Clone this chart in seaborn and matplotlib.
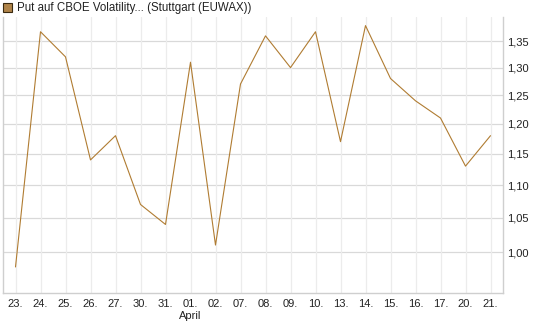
import matplotlib
matplotlib.use("Agg")
import matplotlib.pyplot as plt
import seaborn as sns
import pandas as pd
from matplotlib.ticker import FixedLocator, FixedFormatter, NullLocator
from matplotlib.patches import Rectangle

dates = ["23.", "24.", "25.", "26.", "27.", "30.", "31.", "01.", "02.", "07.",
         "08.", "09.", "10.", "13.", "14.", "15.", "16.", "17.", "20.", "21."]
values = [0.979, 1.368, 1.32, 1.14, 1.18, 1.07, 1.04, 1.31, 1.01, 1.27,
          1.36, 1.30, 1.368, 1.17, 1.38, 1.28, 1.24, 1.21, 1.13, 1.18]
ytick_values = [1.00, 1.05, 1.10, 1.15, 1.20, 1.25, 1.30, 1.35]
ytick_labels = ["1,00", "1,05", "1,10", "1,15", "1,20", "1,25", "1,30", "1,35"]
title = "Put auf CBOE Volatility... (Stuttgart (EUWAX))"
month_label = "April"
month_index = 7

sns.set_theme(style="white")
plt.rcParams['font.family'] = ['Liberation Sans', 'DejaVu Sans']

df = pd.DataFrame({"i": range(len(values)), "v": values})

fig = plt.figure(figsize=(5.45, 3.27), dpi=100)
ax = fig.add_axes([3/545, 34/327, 500/545, 276/327])

line_color = "#b07c32"
sns.lineplot(data=df, x="i", y="v", ax=ax, color=line_color, linewidth=0.8)

ax.set_yscale("log")
ax.set_ylim(0.9434, 1.397)
ax.set_xlim(-0.5, len(values) - 0.5)

ax.yaxis.set_major_locator(FixedLocator(ytick_values))
ax.yaxis.set_major_formatter(FixedFormatter(ytick_labels))
ax.yaxis.set_minor_locator(NullLocator())
ax.yaxis.tick_right()
ax.set_xticks(range(len(dates)))
ax.set_xticklabels(dates)
ax.tick_params(axis="both", length=0, labelsize=8, colors="#222222")
ax.tick_params(axis="y", pad=3)
ax.tick_params(axis="x", pad=4)
ax.set_xlabel("")
ax.set_ylabel("")

ax.grid(False)
for yv in ytick_values:
    ax.axhline(yv, color="#d9d9d9", linewidth=0.9, zorder=0)
for xv in range(len(dates)):
    ax.axvline(xv, color="#ececec", linewidth=0.9, zorder=0)

for s in ["left", "right", "bottom"]:
    ax.spines[s].set_color("#cfcfcf")
    ax.spines[s].set_linewidth(1.0)
ax.spines["top"].set_visible(False)

ax.text(month_index, -18/276, month_label, transform=ax.get_xaxis_transform(),
        ha="center", va="top", fontsize=8, color="#222222")

fig.patches.append(Rectangle((3/545, 1 - 12/327), 9/545, 9/327, transform=fig.transFigure,
                             facecolor="#b0844a", edgecolor="#3a2a10", linewidth=0.8))
fig.text(17/545, 1 - 8/327, title, ha="left", va="center", fontsize=8.3, color="#222222")

fig.savefig("out.png", dpi=100)
